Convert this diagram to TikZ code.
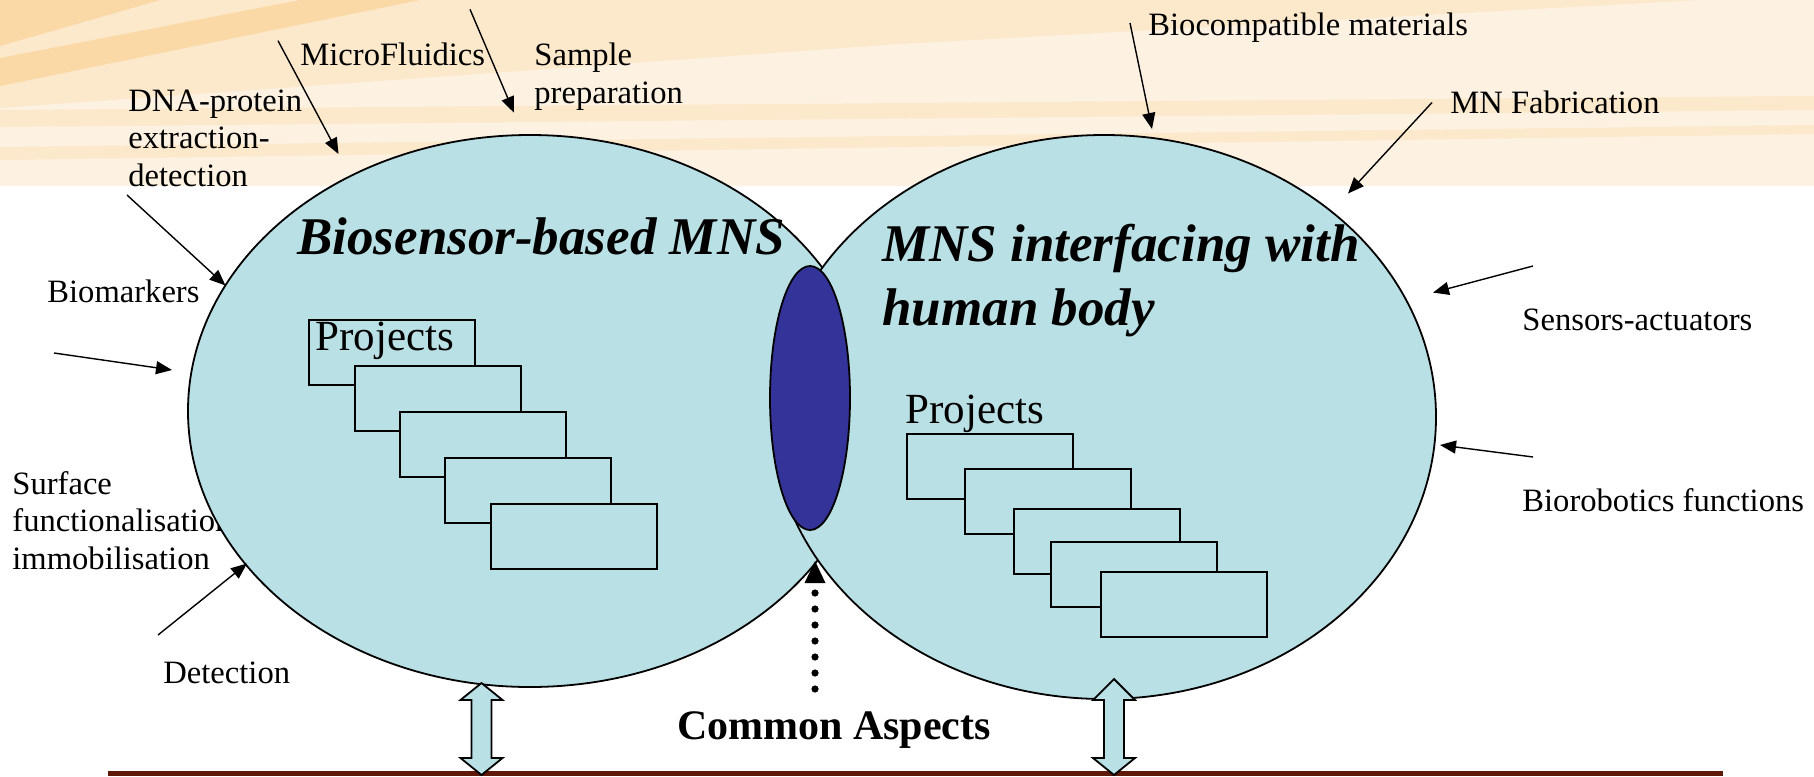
\documentclass[tikz,border=0pt]{standalone}
\usepackage{fontspec}
\setmainfont{Liberation Serif}
\usetikzlibrary{shapes.geometric, arrows.meta, calc}

\definecolor{bandbase}{RGB}{253,242,226}
\definecolor{bandmid}{RGB}{252,232,202}
\definecolor{banddark}{RGB}{250,217,167}
\definecolor{cellblue}{RGB}{185,224,228}
\definecolor{corenavy}{RGB}{51,51,153}
\definecolor{groundline}{RGB}{96,24,8}

\tikzset{
  lbl/.style={inner sep=0pt, font=\fontsize{16.3}{18.8}\selectfont, align=left},
  ttl/.style={inner sep=0pt, font=\fontsize{26.5}{32.3}\selectfont\bfseries\itshape, align=left},
  projtxt/.style={inner sep=0pt, font=\fontsize{21.5}{25}\selectfont},
  projbox/.style={draw=black, line width=0.9pt, fill=cellblue, minimum width=83pt,
                  minimum height=32.5pt, inner sep=0pt, anchor=north west},
  feed/.style={line width=0.7pt, -{Triangle[length=8pt,width=6.5pt]}},
  cell/.style={ellipse, draw=black, line width=0.9pt, fill=cellblue, inner sep=0pt},
  twoway/.style={draw=black, fill=cellblue, line width=0.9pt, line join=miter},
}

\begin{document}
\begin{tikzpicture}[x=0.5pt, y=-0.5pt]
\useasboundingbox (0,0) rectangle (1814,776);

% header band with light rays
\fill[bandbase] (0,0) rectangle (1814,186);
\fill[bandmid] (0,0) -- (1700,0) -- (900,44) -- (0,108) -- cycle;
\fill[banddark] (0,0) -- (160,0) -- (0,46) -- cycle;
\fill[banddark] (0,58) -- (300,0) -- (420,0) -- (0,86) -- cycle;
\fill[bandmid] (0,110) -- (1814,96) -- (1814,110) -- (0,127) -- cycle;
\fill[bandmid] (0,147) -- (1814,125) -- (1814,134) -- (0,160) -- cycle;

% labels around the two domains
\node[lbl, anchor=base west] (mf) at (300,65) {MicroFluidics};
\node[lbl, anchor=north west] (sp) at (534,42.7) {Sample\\preparation};
\node[lbl, anchor=north west] (dna) at (128,89.4) {DNA-protein\\extraction-\\detection};
\node[lbl, anchor=base west] (bm) at (47,302.5) {Biomarkers};
\node[lbl, anchor=north west] (sf) at (12,471) {Surface\\functionalisation\\immobilisation};
\node[lbl, anchor=base west] (det) at (163,683.3) {Detection};
\node[lbl, anchor=base west] (bc) at (1148,35) {Biocompatible materials};
\node[lbl, anchor=base west] (mnf) at (1450,113.3) {MN Fabrication};
\node[lbl, anchor=base west] (sa) at (1522,330) {Sensors-actuators};
\node[lbl, anchor=base west] (br) at (1522,511) {Biorobotics functions};

% the two domains and their overlap
\node[cell, minimum width=342pt, minimum height=276pt] (L) at (530,411) {};
\node[cell, minimum width=332pt, minimum height=282pt] (R) at (1104,417) {};
\node[ellipse, draw=black, line width=0.9pt, fill=corenavy, inner sep=0pt,
      minimum width=40pt, minimum height=132pt] (core) at (810,398) {};

% project stacks
\node[projbox] (lp0) at (308,319) {};
\node[projbox] (lp1) at (354,365) {};
\node[projbox] (lp2) at (399,411) {};
\node[projbox] (lp3) at (444,457) {};
\node[projbox] (lp4) at (490,503) {};
\node[projtxt, anchor=base west] (lpt) at (315,350) {Projects};

\node[projbox] (rp0) at (906,433) {};
\node[projbox] (rp1) at (964,468) {};
\node[projbox] (rp2) at (1013,508) {};
\node[projbox] (rp3) at (1050,541) {};
\node[projbox] (rp4) at (1100,571) {};
\node[projtxt, anchor=base west] (rpt) at (905,423) {Projects};

% titles
\node[ttl, anchor=base west] (tl) at (297,254) {Biosensor-based MNS};
\node[ttl, anchor=north west] (tr) at (882,223.4) {MNS interfacing with\\human body};

% feeding arrows
\coordinate (mf0) at (278,40.7);   \coordinate (mf1) at (338.5,154);
\coordinate (sp0) at (470,9.3);    \coordinate (sp1) at (514,112.7);
\coordinate (dna0) at (127,195);   \coordinate (dna1) at (225.5,285.5);
\coordinate (bm0) at (54,353);     \coordinate (bm1) at (172,370);
\coordinate (sf0) at (158,635);    \coordinate (sf1) at (247,563.5);
\coordinate (bc0) at (1130,23);    \coordinate (bc1) at (1152,129);
\coordinate (mn0) at (1432,102.5); \coordinate (mn1) at (1348,193.5);
\coordinate (sa0) at (1533,266);   \coordinate (sa1) at (1433,292.6);
\coordinate (br0) at (1533,457);   \coordinate (br1) at (1440,445);
\foreach \a in {mf,sp,dna,bm,sf,bc,mn,sa,br}
  \draw[feed] (\a0) -- (\a1);

% dotted pointer to the overlap
\coordinate (dotfoot) at (815,689);
\coordinate (dottip) at (815,561);
\draw[line width=3.6pt, line cap=round, dash pattern=on 0pt off 8pt,
      -{Triangle[length=11pt,width=10.5pt,line width=0pt]}] (dotfoot) -- (dottip);

\node[inner sep=0pt, font=\fontsize{21}{25}\selectfont\bfseries, anchor=base]
  (ca) at (834,739) {Common Aspects};

% ground line
\coordinate (g1) at (108,770.5);
\coordinate (g2) at (1723,776);
\fill[groundline] (g1) rectangle (g2);

% two-way block arrows between domains and ground
\draw[twoway] (481.5,683) -- (502.5,700) -- (491.5,700) -- (491.5,758) -- (502.5,758)
  -- (481.5,775) -- (460.5,758) -- (471.5,758) -- (471.5,700) -- (460.5,700) -- cycle;
\draw[twoway] (1114,679) -- (1135,700) -- (1124,700) -- (1124,758) -- (1135,758)
  -- (1114,775) -- (1093,758) -- (1104,758) -- (1104,700) -- (1093,700) -- cycle;
\end{tikzpicture}
\end{document}
